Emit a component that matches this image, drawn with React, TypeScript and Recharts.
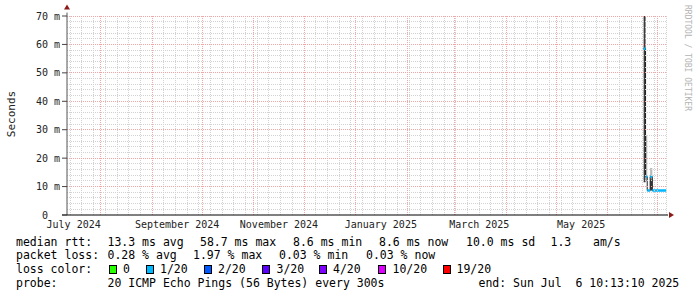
import React from 'react';
import {
  ComposedChart,
  Area,
  XAxis,
  YAxis,
  ReferenceLine,
  ReferenceDot,
} from 'recharts';

const DAY = 86400000;
const START = Date.UTC(2024, 6, 12, 0, 40);
const END = Date.UTC(2025, 6, 6, 10, 13, 10);

// samples (only the last two weeks hold data)
const sampleTimes = [
  '2025-06-22T10:00:00Z',
  '2025-06-23T14:00:00Z',
  '2025-06-24T14:00:00Z',
  '2025-06-26T08:00:00Z',
  '2025-06-27T15:00:00Z',
  '2025-07-06T00:00:00Z',
];
const medianRtt = [58.5, 13.5, 8.6, 13.5, 8.6, 8.6];
const smokeLow = [11.5, 12, 8.6, 8.6, 8.6, 8.6];
const smokeDark = [59, 0, 0, 4, 0, 0];
const smokeLight = [0, 16, 0, 3.9, 0, 0];

const labelMonths = ['2024-07-16', '2024-09-16', '2024-11-16', '2025-01-16', '2025-03-16', '2025-05-16'];
const gridMonths = [
  '2024-08-01', '2024-09-01', '2024-10-01', '2024-11-01', '2024-12-01', '2025-01-01',
  '2025-02-01', '2025-03-01', '2025-04-01', '2025-05-01', '2025-06-01', '2025-07-01',
];
const yTicks = [0, 10, 20, 30, 40, 50, 60, 70];

const rttStats = ['13.3 ms avg', '58.7 ms max', '8.6 ms min', '8.6 ms now', '10.0 ms sd', '1.3', 'am/s'];
const lossStats = ['0.28 % avg', '1.97 % max', '0.03 % min', '0.03 % now'];
const lossLabels = ['0', '1/20', '2/20', '3/20', '4/20', '10/20', '19/20'];
const lossColors = ['#26ff00', '#00b8ff', '#0059ff', '#5e00ff', '#7e00ff', '#dd00ff', '#ff0000'];

const MED_COLOR = '#00b8ff';
const BAND = 0.42;

const ts = (s: string) => new Date(s.length > 10 ? s : s + 'T00:00:00Z').getTime();

const data = sampleTimes.map((t, i) => ({
  t: ts(t),
  low: smokeLow[i],
  dark: smokeDark[i],
  light: smokeLight[i],
  med: medianRtt[i],
  medBase: medianRtt[i] - BAND,
  medBand: BAND * 2,
}));

// weekly minor grid on sundays
const weekLines: number[] = [];
for (let w = Date.UTC(2024, 6, 14); w <= END; w += 7 * DAY) weekLines.push(w);
const monthLines = gridMonths.map(ts);
const minorWeeks = weekLines.filter((w) => !monthLines.includes(w));
const minorY: number[] = [];
for (let v = 2; v < 70; v += 2) if (v % 10 !== 0) minorY.push(v);
const majorY = yTicks.filter((v) => v > 0);

const mono = 'DejaVu Sans Mono';
const MINOR = '#d2d2d2';
const MAJOR = '#efa6a6';

const YTick = (props: any) => {
  const { x, y, payload } = props;
  const v = payload.value;
  return (
    <text x={v === 0 ? x - 12 : x} y={y} dy="0.355em" textAnchor="end" fontSize={10} fontFamily={mono} fill="#222">
      {v === 0 ? '0' : `${v} m`}
    </text>
  );
};

const monthName = (v: number) =>
  new Date(v).toLocaleString('en-US', { month: 'long', year: 'numeric', timeZone: 'UTC' });

const UpArrow = (p: any) => (
  <polygon points={`${p.cx - 3},${p.cy - 3} ${p.cx + 3},${p.cy - 3} ${p.cx},${p.cy - 8}`} fill="#8b1a1a" />
);
const RightArrow = (p: any) => (
  <polygon points={`${p.cx + 2},${p.cy - 3} ${p.cx + 2},${p.cy + 3} ${p.cx + 7},${p.cy}`} fill="#8b1a1a" />
);

const txt = (left: number, top: number, s: string, key?: string) => (
  <div key={key} style={{ position: 'absolute', left, top, whiteSpace: 'pre', lineHeight: '14px' }}>{s}</div>
);

const rttX = [107.5, 200, 293, 379, 466, 550.5, 593];
const lossX = [107.5, 193, 279, 366];
const boxX = [108.5, 145.5, 203.5, 261.5, 319, 378, 442.5];
const boxLabelX = [123, 160, 218, 276.5, 333, 392.5, 456.5];

const gridProps = { strokeDasharray: '1 1', shapeRendering: 'crispEdges' } as any;

export default function App() {
  return (
    <div style={{ position: 'fixed', left: 0, top: 0, width: 697, height: 297, background: '#fff', overflow: 'hidden' }}>
      <ComposedChart width={697} height={297} data={data} margin={{ top: 16, right: 30, left: 7, bottom: 62 }}>
        <XAxis
          dataKey="t"
          type="number"
          domain={[START, END]}
          allowDataOverflow
          ticks={labelMonths.map(ts)}
          tickFormatter={monthName}
          tickLine={false}
          axisLine={false}
          tickSize={0}
          tickMargin={6}
          height={20}
          interval={0}
          tick={{ fontSize: 10, fontFamily: mono, fill: '#222' }}
        />
        <YAxis
          type="number"
          domain={[0, 70]}
          allowDataOverflow
          ticks={yTicks}
          width={60}
          tickSize={5}
          tickMargin={2}
          tickLine={{ stroke: '#444' }}
          axisLine={false}
          tick={<YTick />}
        />
        {minorY.map((v) => (
          <ReferenceLine key={'my' + v} y={v} stroke={MINOR} {...gridProps} />
        ))}
        {minorWeeks.map((w) => (
          <ReferenceLine key={'mw' + w} x={w} stroke={MINOR} {...gridProps} />
        ))}
        {majorY.map((v) => (
          <ReferenceLine key={'My' + v} y={v} stroke={MAJOR} {...gridProps} />
        ))}
        {monthLines.map((m) => (
          <ReferenceLine key={'Mm' + m} x={m} stroke={MAJOR} {...gridProps} />
        ))}
        <Area dataKey="low" stackId="smoke" type="stepAfter" stroke="none" fill="none" isAnimationActive={false} />
        <Area dataKey="dark" stackId="smoke" type="stepAfter" stroke="none" fill="#3a3a3a" fillOpacity={1} isAnimationActive={false} />
        <Area dataKey="light" stackId="smoke" type="stepAfter" stroke="none" fill="#b8b8b8" fillOpacity={1} isAnimationActive={false} />
        <Area dataKey="med" type="stepAfter" stroke="#202020" strokeWidth={1} fill="none" isAnimationActive={false} />
        <Area dataKey="medBase" stackId="med" type="stepAfter" stroke="none" fill="none" isAnimationActive={false} />
        <Area dataKey="medBand" stackId="med" type="stepAfter" stroke="none" fill={MED_COLOR} fillOpacity={1} isAnimationActive={false} />
        <ReferenceLine
          segment={[{ x: START, y: 0 }, { x: START, y: 71.2 }]}
          stroke="#555"
          ifOverflow="visible"
        />
        <ReferenceLine
          segment={[{ x: START - 3 * DAY, y: 0 }, { x: END + 0.6 * DAY, y: 0 }]}
          stroke="#000"
          ifOverflow="visible"
        />
        <ReferenceDot x={START} y={71.2} ifOverflow="visible" shape={<UpArrow />} />
        <ReferenceDot x={END} y={0} ifOverflow="visible" shape={<RightArrow />} />
      </ComposedChart>

      <div
        style={{
          position: 'absolute', left: 11, top: 114, transform: 'translate(-50%, -50%) rotate(-90deg)',
          fontFamily: mono, fontSize: 11, color: '#222', whiteSpace: 'pre',
        }}
      >
        Seconds
      </div>
      <div
        style={{
          position: 'absolute', left: 683, top: 5, writingMode: 'vertical-rl',
          fontFamily: mono, fontSize: 8, color: '#b4b4b4', whiteSpace: 'pre',
        }}
      >
        RRDTOOL / TOBI OETIKER
      </div>

      <div style={{ position: 'absolute', left: 0, top: 0, fontFamily: mono, fontSize: 11.5, color: '#000' }}>
        {txt(16, 234.7, 'median rtt:')}
        {rttStats.map((s, i) => txt(rttX[i], 234.7, s, 'r' + i))}
        {txt(16, 248, 'packet loss:')}
        {lossStats.map((s, i) => txt(lossX[i], 248, s, 'l' + i))}
        {txt(16, 262.3, 'loss color:')}
        {lossLabels.map((s, i) => (
          <React.Fragment key={'c' + i}>
            <div
              style={{
                position: 'absolute', left: boxX[i], top: 265, width: 6, height: 7,
                background: lossColors[i], border: '1px solid #000',
              }}
            />
            {txt(boxLabelX[i], 262.3, s)}
          </React.Fragment>
        ))}
        {txt(16, 275.7, 'probe:')}
        {txt(107.5, 275.7, '20 ICMP Echo Pings (56 Bytes) every 300s')}
        {txt(478.5, 275.7, 'end: Sun Jul  6 10:13:10 2025')}
      </div>
    </div>
  );
}
